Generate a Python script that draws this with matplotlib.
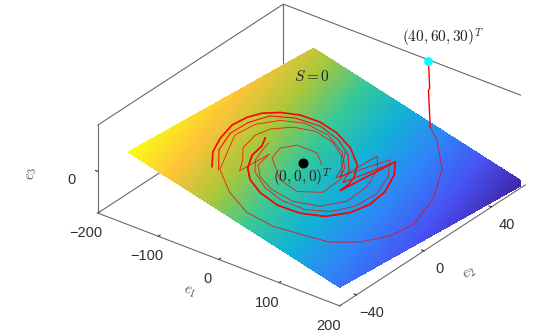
import matplotlib
matplotlib.use('Agg')
import matplotlib.pyplot as plt
from matplotlib.colors import LinearSegmentedColormap
import numpy as np

plt.rcParams['font.family'] = ['Liberation Sans', 'DejaVu Sans']
plt.rcParams['mathtext.fontset'] = 'cm'

# parula
parula_pts = [(0.2422, 0.1504, 0.6603), (0.2810, 0.3228, 0.9579), (0.1786, 0.5289, 0.9682),
              (0.0689, 0.6948, 0.8394), (0.2161, 0.7843, 0.5923), (0.6720, 0.7793, 0.2227),
              (0.9970, 0.7659, 0.2199), (0.9769, 0.9839, 0.0805)]
parula = LinearSegmentedColormap.from_list('parula', parula_pts)

e1_lim = [-200, 200]
e2_lim = [-50, 60]
e3_lim = [-27, 30]
e1_ticks = [-200, -100, 0, 100, 200]
e2_ticks = [-40, 0, 40]
e3_ticks = [0]

# sliding surface S=0 : e3 = -(e1+e2)/10
S_coef = -0.1
plane_e1 = [-150, 200]
plane_e2 = [-50, 60]

# descent from the initial point to the surface
drop_e1 = [40, 42, 40, 49]
drop_e2 = [60, 60, 60, 57.8]
drop_e3 = [29, 11.9, 10.3, -10.7]

# e1/e2 on the surface
outer_e1 = [49, 72, 117, 151, 170, 168, 153, 130, 104, 64, 25, -16, -55, -60, -91, -90, -76, -53, -19, 15, 39, 49]
outer_e2 = [57.8, 53.6, 40.5, 22.9, 4.4, -8.8, -21.3, -30.8, -35, -40.9, -42.3, -37.8, -29.6, -26.6, -7.8, 3.9, 13.8, 20.2, 21.6, 17.7, 10.8, 4.3]

low3_e1 = [48, 67, 82, 87, 73, 45, 13, -14, -32, -38]
low3_e2 = [26.8, 20, 8.4, -5.2, -16.2, -22.3, -23.1, -20.5, -15.2, -6.5]

top4_e1 = [-38, -51, -67, -75, -72, -57, -34, -6, 19, 37, 46]
top4_e2 = [-24, -17.5, -11.6, -1.5, 6.3, 14.5, 19.5, 19.5, 15.9, 9.8, 3]

low2_e1 = [63, 85, 100, 100, 88, 66, 36, 5, -25, -41, -49, -54]
low2_e2 = [29, 20, 7.4, -5.2, -15.6, -22.5, -25.3, -24.3, -19.6, -13.4, -6.6, -1.2]

top2_e1 = [-56, -83, -97, -98, -90, -68, -37, -4, 24, 48, 58]
top2_e2 = [-30, -20.1, -8.4, 2.7, 12.7, 19.6, 23.6, 22.4, 18.1, 10.1, 2.8]

low1_e1 = [70, 87, 103, 109, 105, 91, 67, 39, 8, -18, -36, -50, -55, -63.5]
low1_e2 = [29.6, 22.9, 11.7, 0.6, -9.7, -19.5, -25.9, -29, -28.3, -25, -19.9, -12.2, -4.7, 0.3]

top1_e1 = [-65, -85, -98, -107, -106, -100, -87, -68, -43, -15, 16, 45, 60, 65, 67]
top1_e2 = [-30.7, -23, -13.9, -3.7, 4.9, 11.6, 17.7, 22.7, 25.5, 25.4, 22.3, 16.1, 8.7, 3.4, -2]

inner_e1 = [17.5, 36, 52, 56, 35, 5, -31, -38, -29, -3, 17]
inner_e2 = [18.7, 10.3, 3.4, -8.4, -16.1, -15.6, -7.3, 0.1, 6.9, 9.3, 5]

fig = plt.figure(figsize=(5.6, 3.33), dpi=100)
side = 430
ax = fig.add_axes([90.7 / 560, -42.8 / 333, side / 560, side / 333], projection='3d', proj_type='ortho')
ax.computed_zorder = False
ax.view_init(elev=30, azim=-52.5)
ax.set_box_aspect((3, 3, 1))
ax.set_xlim(*e1_lim, view_margin=0)
ax.set_ylim(*e2_lim, view_margin=0)
ax.set_zlim(*e3_lim, view_margin=0)
ax.patch.set_alpha(0)

grey = '#6a6a6a'
for axis in (ax.xaxis, ax.yaxis, ax.zaxis):
    axis.set_pane_color((1, 1, 1, 0))
    axis.pane.set_edgecolor((1, 1, 1, 0))
    axis.line.set_color(grey)
    axis.line.set_linewidth(0.8)
    axis._axinfo['grid']['linewidth'] = 0
    axis._axinfo['tick']['color'] = grey
    axis._axinfo['tick']['inward_factor'] = 0
    axis._axinfo['tick']['outward_factor'] = 0.12
ax.grid(False)
ax.set_xticks(e1_ticks)
ax.set_yticks(e2_ticks)
ax.set_zticks(e3_ticks)
ax.tick_params(labelsize=10.5, labelcolor='#303030', colors='#303030', pad=2)
ax.set_xlabel('$e_1$', fontsize=10.5, color='#505050', labelpad=4)
ax.set_ylabel('$e_2$', fontsize=10.5, color='#505050', labelpad=4)
ax.set_zlabel('$e_3$', fontsize=10.5, color='#505050', labelpad=4)
ax.zaxis._axinfo['juggled'] = (1, 2, 0)

# back edges of the box
xa, xb = e1_lim
ya, yb = e2_lim
za, zb = e3_lim
ax.plot([xa, xa, xb, xb], [ya, yb, yb, yb], [zb, zb, zb, za], color=grey, lw=0.8, zorder=0)
ax.plot([xa, xa], [yb, yb], [za, zb], color=grey, lw=0.8, zorder=0)
ax.plot([xa, xa, xb], [ya, yb, yb], [za, za, za], color=grey, lw=0.8, zorder=0)

P1, P2 = np.meshgrid(np.linspace(*plane_e1, 140), np.linspace(*plane_e2, 140))
ax.plot_surface(P1, P2, S_coef * (P1 + P2), cmap=parula, rcount=140, ccount=140,
                linewidth=0, antialiased=False, shade=False, zorder=1)


def on_surface(e1, e2, **kw):
    e1 = np.array(e1, dtype=float)
    e2 = np.array(e2, dtype=float)
    ax.plot(e1, e2, S_coef * (e1 + e2), color='red', zorder=2, solid_joinstyle='round', **kw)


ax.plot(drop_e1, drop_e2, drop_e3, color='red', lw=1.0, zorder=2)
# transient first, thin
thin_e1 = outer_e1 + low3_e1 + top4_e1 + low2_e1
thin_e2 = outer_e2 + low3_e2 + top4_e2 + low2_e2
on_surface(thin_e1, thin_e2, lw=0.6, alpha=0.85)
on_surface(top2_e1 + low1_e1, top2_e2 + low1_e2, lw=0.8, alpha=0.9)
on_surface(top1_e1 + low1_e1, top1_e2 + low1_e2, lw=1.2)
on_surface(inner_e1, inner_e2, lw=0.6, alpha=0.8)

ax.scatter([0], [0], [0], color='black', s=38, depthshade=False, zorder=4)
ax.scatter([40], [60], [29], color='cyan', s=28, depthshade=False, zorder=4)

ax.text(-111.7, 45.5, 6.6, '$S=0$', fontsize=11, ha='center', va='center', color='#222222', zorder=5)
ax.text(19.7, -7.7, -1.2, '$(0,0,0)^T$', fontsize=11, ha='center', va='center', color='#222222', zorder=5)
ax.text(63, 60, 47.7, '$(40,60,30)^T$', fontsize=11, ha='center', va='center', color='#222222', zorder=5)

fig.savefig('out.png', dpi=100)
